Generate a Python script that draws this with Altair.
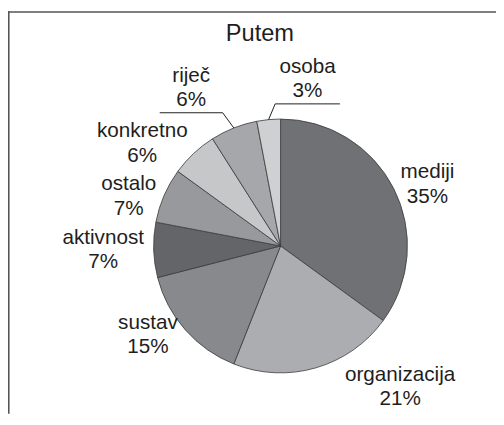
import altair as alt
import pandas as pd

# ---- data ----
title = "Putem"
labels = ["mediji", "organizacija", "sustav", "aktivnost", "ostalo", "konkretno", "riječ", "osoba"]
values = [35, 21, 15, 7, 7, 6, 6, 3]
colors = ["#707175", "#acadb1", "#88898d", "#646569", "#98999d", "#c6c7c9", "#a6a7ab", "#cfd0d2"]

# ---- layout ----
W, H = 496, 409
CX, CY, R = 277, 238.5, 129
GAP = 8          # gap between pie edge and label anchor
RG = R + GAP
HH = 23          # half height of a two-line label
SEP = 27         # half of the minimum vertical distance between side labels
FS = 21          # label font size
YMAX = 382       # lowest allowed label centre
PAD = 70         # spacing added when two neighbouring top/bottom labels collide
YPUSH = 10       # extra outward push for labels moved apart
INK = "#1e1e1e"

df = pd.DataFrame({"label": labels, "value": values, "idx": list(range(len(labels)))})
base = alt.Chart(df)

arcs = base.mark_arc(radius=R, stroke="#3a3a3a", strokeWidth=0.8).encode(
    theta=alt.Theta("value:Q", stack=True),
    order=alt.Order("idx:Q"),
    color=alt.Color("label:N", scale=alt.Scale(domain=labels, range=colors), legend=None),
    x=alt.value(CX),
    y=alt.value(CY),
)

def cnt(cls):
    return f"length(replace(datum.label, regexp('[^{cls}]', 'g'), ''))"

def overlap(p):
    return (
        f"isValid(datum.{p}l) && datum.vert && datum.{p}v "
        f"&& min(datum.br, datum.{p}r) - max(datum.bl, datum.{p}l) > 0 "
        f"&& min(datum.bb, datum.{p}b) - max(datum.bt, datum.{p}t) > 2 "
        f"? min(datum.br, datum.{p}r) - max(datum.bl, datum.{p}l) + {PAD} : 0"
    )

def voverlap(p):
    return (
        f"isValid(datum.{p}y) && !datum.vert && !datum.{p}v && datum.{p}s == datum.sg "
        f"? max(0, {2 * SEP} - abs(datum.{p}y - datum.ly0)) : 0"
    )

lab = (
    base.transform_window(cum="sum(value)", sort=[alt.SortField("idx")], frame=[None, 0])
    .transform_joinaggregate(total="sum(value)")
    .transform_calculate(
        mid="2*PI*(datum.cum - datum.value/2)/datum.total",
        txt="datum.label + '\\n' + datum.value + '%'",
    )
    .transform_calculate(
        s="sin(datum.mid)",
        c="cos(datum.mid)",
        nN=cnt("ijlf"),
        nT=cnt("tr"),
        nM=cnt("mw"),
        wp=f"((length(datum.value + '')) * 0.556 + 0.889) * {FS}",
    )
    .transform_calculate(
        wn=f"(0.222*datum.nN + 0.3*datum.nT + 0.833*datum.nM + 0.55*(length(datum.label) - datum.nN - datum.nT - datum.nM)) * {FS}",
        vert="abs(datum.s) < 0.5",
    )
    .transform_calculate(
        hw="max(datum.wn, datum.wp) / 2",
        px=f"{CX} + {RG}*datum.s",
        py=f"{CY} - {RG}*datum.c",
        sg="datum.s >= 0 ? 1 : -1",
        dirv="datum.c >= 0 ? 1 : -1",
    )
    .transform_calculate(
        bx="datum.vert ? datum.px : datum.px + datum.sg*datum.hw",
        by=f"datum.vert ? datum.py - datum.dirv*{HH} : datum.py",
    )
    .transform_calculate(
        ly0=f"min(datum.by, {YMAX})",
    )
    .transform_calculate(
        lx0=f"datum.by > {YMAX} ? {CX} + datum.sg*(datum.hw + sqrt(max(0, pow({RG}, 2) - pow(datum.ly0 - {HH} - {CY}, 2)))) : datum.bx",
    )
    .transform_calculate(
        bl="datum.lx0 - datum.hw",
        br="datum.lx0 + datum.hw",
        bt=f"datum.ly0 - {HH}",
        bb=f"datum.ly0 + {HH}",
    )
    .transform_window(
        nl="lead(bl)", nr="lead(br)", nt="lead(bt)", nb="lead(bb)", nv="lead(vert)",
        ny="lead(ly0)", ns="lead(sg)",
        pl="lag(bl)", pr="lag(br)", pt="lag(bt)", pb="lag(bb)", pv="lag(vert)",
        py2="lag(ly0)", ps="lag(sg)",
        sort=[alt.SortField("idx")], frame=[None, None],
    )
    .transform_calculate(
        ovn=overlap("n"),
        ovp=overlap("p"),
        ovyn=voverlap("n"),
        ovyp=voverlap("p").replace("datum.py", "datum.py2"),
    )
    .transform_calculate(
        shift="datum.dirv * (datum.ovp - datum.ovn) / 2",
        vshift="-datum.sg * (datum.ovyn - datum.ovyp) / 2",
    )
    .transform_calculate(
        lx="datum.lx0 + datum.shift",
        ly=f"datum.ly0 + datum.vshift - (datum.shift != 0 ? datum.dirv*{YPUSH} : 0)",
        ex=f"{CX} + {R}*datum.s",
        ey=f"{CY} - {R}*datum.c",
        hl="max(datum.hw, 28) + 4",
    )
    .transform_calculate(
        lineY=f"datum.ly + {HH} + 2",
        hx1="datum.lx - datum.hl",
        hx2="datum.lx + datum.hl",
    )
    .transform_calculate(
        near="datum.ex > datum.lx ? datum.hx2 : datum.hx1",
    )
)

text_layer = lab.mark_text(
    font="Liberation Sans", fontSize=FS, lineHeight=25, lineBreak="\n",
    align="center", baseline="middle", color=INK, dy=-12.5,
).encode(
    x=alt.X("lx:Q", scale=None, axis=None),
    y=alt.Y("ly:Q", scale=None, axis=None),
    text="txt:N",
)

moved = lab.transform_filter("datum.shift != 0")
leader_h = moved.mark_rule(color=INK, strokeWidth=1).encode(
    x=alt.X("hx1:Q", scale=None, axis=None), x2="hx2:Q",
    y=alt.Y("lineY:Q", scale=None, axis=None),
)
leader_d = moved.mark_rule(color=INK, strokeWidth=1).encode(
    x=alt.X("near:Q", scale=None, axis=None), x2="ex:Q",
    y=alt.Y("lineY:Q", scale=None, axis=None), y2="ey:Q",
)

one = pd.DataFrame({"t": [title]})
title_layer = alt.Chart(one).mark_text(
    font="Liberation Sans", fontSize=24, align="center", baseline="middle", color=INK
).encode(text="t:N", x=alt.value(256), y=alt.value(23))

frame_left = alt.Chart(one).mark_rule(color="#555555", strokeWidth=1.6).encode(
    x=alt.value(0.8), y=alt.value(0), y2=alt.value(H)
)
frame_top = alt.Chart(one).mark_rule(color="#555555", strokeWidth=1.6).encode(
    y=alt.value(0.8), x=alt.value(0), x2=alt.value(W)
)

chart = (
    alt.layer(frame_left, frame_top, arcs, leader_h, leader_d, text_layer, title_layer)
    .properties(width=W, height=H, padding=0, autosize=alt.AutoSizeParams(type="none"),
                background="white")
    .configure_view(stroke=None)
)

chart.save("out.html", embed_options={"renderer": "svg", "actions": False})
